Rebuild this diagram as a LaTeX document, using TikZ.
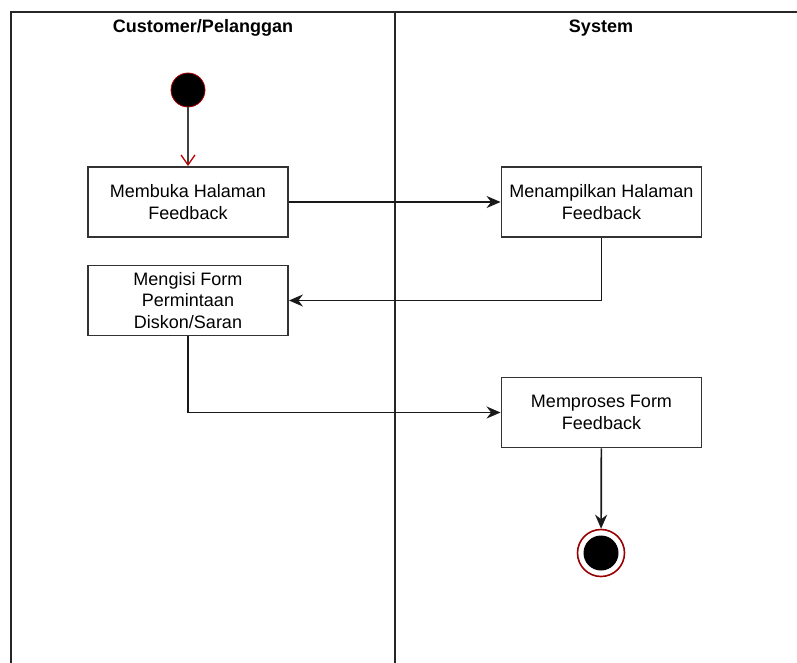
\documentclass[tikz,border=0pt]{standalone}
\usepackage{fontspec}
\setmainfont{Liberation Sans}
\usetikzlibrary{arrows.meta}
\begin{document}
\begin{tikzpicture}[x=1pt,y=-1pt,
  lane/.style={line width=1.8pt,draw=black!85},
  action/.style={draw=black!80,line width=1.9pt,fill=white,minimum width=200pt,minimum height=70pt,
    align=center,inner sep=0pt,font=\fontsize{18}{21.5}\selectfont},
  lanetitle/.style={font=\bfseries\fontsize{18}{20}\selectfont},
  flow/.style={line width=1.7pt,draw=black!90,-{Stealth[length=14pt,width=12pt]}},
  startflow/.style={line width=1.4pt,draw=black!75,-{Straight Barb[length=10pt,width=14pt,color=red!75!black,line width=1.3pt]}}]
\useasboundingbox (0,0) rectangle (797,663);
% swimlane frame
\draw[lane] (11,663) -- (11,12) -- (797,12);
\draw[lane] (395,12) -- (395,663);
\node[lanetitle] (t1) at (203,28) {Customer/Pelanggan};
\node[lanetitle] (t2) at (601,28) {System};
% start / end markers
\node[circle,fill=black,draw=red!70!black,line width=0.8pt,minimum size=34pt,inner sep=0pt] (start) at (188,90) {};
\node[circle,draw=red!60!black,line width=1.6pt,minimum size=47pt,inner sep=0pt] (end) at (601,553) {};
\node[circle,fill=black,minimum size=35pt,inner sep=0pt] (endcore) at (601,553) {};
% actions
\node[action] (a1) at (188,202) {Membuka Halaman\\Feedback};
\node[action] (a2) at (601.5,202) {Menampilkan Halaman\\Feedback};
\node[action] (a3) at (188,300.5) {Mengisi Form\\Permintaan\\Diskon/Saran};
\node[action] (a4) at (601.5,412.5) {Memproses Form\\Feedback};
% flows
\draw[startflow] (start) -- (a1);
\draw[flow] (a1) -- (a2);
\draw[flow] (a2.south) |- (a3.east);
\draw[flow] (a3.south) |- (a4.west);
\draw[flow] (a4) -- (end);
\end{tikzpicture}
\end{document}
